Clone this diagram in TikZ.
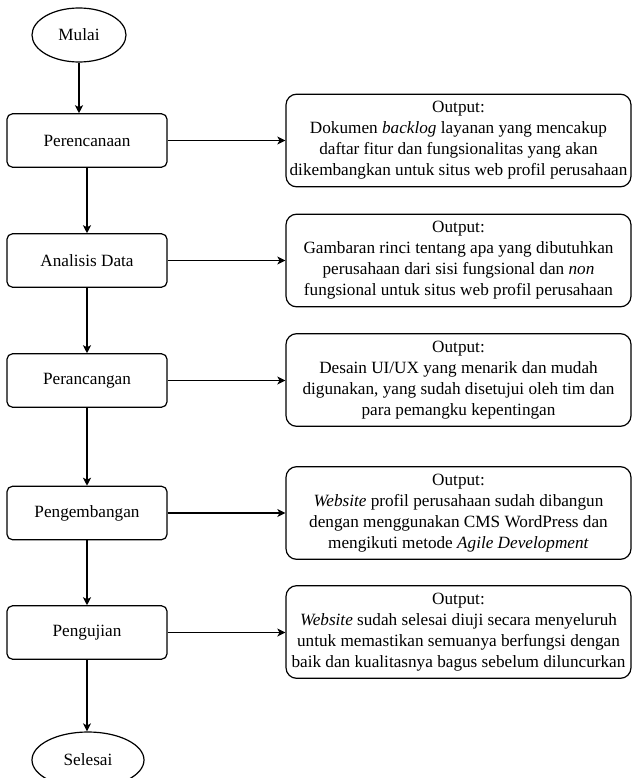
\documentclass[tikz,border=0pt]{standalone}
\usepackage{fontspec}
\setmainfont{Liberation Serif}
\usetikzlibrary{shapes.geometric,arrows.meta}
\begin{document}
\begin{tikzpicture}[x=0.75pt,y=-0.75pt,
  every node/.style={font=\fontsize{12.9}{15.8}\selectfont},
  procbox/.style={draw, line width=0.9pt, rounded corners=4pt, minimum width=120pt, minimum height=40pt, inner sep=0pt},
  termnode/.style={draw, line width=0.9pt, ellipse, inner sep=0pt},
  outbox/.style={draw, line width=0.9pt, rounded corners=8pt, minimum width=258.75pt, minimum height=69.5pt, align=center, inner sep=0pt},
  arr/.style={line width=0.9pt, -{Stealth[length=6pt,width=6pt,inset=1.5pt]}}
]
\useasboundingbox (0,0) rectangle (632,778);
\fill[white] (0,0) rectangle (632,778);

\node[termnode, minimum width=70.5pt, minimum height=40.5pt] (mulai) at (79,35) {Mulai};
\node[procbox] (p1) at (87,140.5) {Perencanaan};
\node[procbox] (p2) at (87,260.5) {Analisis Data};
\node[procbox] (p3) at (87,380.5) {Perancangan};
\node[procbox] (p4) at (87,513) {Pengembangan};
\node[procbox] (p5) at (87,632.5) {Pengujian};
\node[termnode, minimum width=84pt, minimum height=42pt] (selesai) at (88,760) {Selesai};

\node[outbox] (o1) at (458.5,140.5) {Output:\\Dokumen \textit{backlog} layanan yang mencakup\\daftar fitur dan fungsionalitas yang akan\\dikembangkan untuk situs web profil perusahaan};
\node[outbox] (o2) at (458.5,260.5) {Output:\\Gambaran rinci tentang apa yang dibutuhkan\\perusahaan dari sisi fungsional dan \textit{non}\\fungsional untuk situs web profil perusahaan};
\node[outbox] (o3) at (458.5,380) {Output:\\Desain UI/UX yang menarik dan mudah\\digunakan, yang sudah disetujui oleh tim dan\\para pemangku kepentingan};
\node[outbox] (o4) at (458.5,513) {Output:\\\textit{Website} profil perusahaan sudah dibangun\\dengan menggunakan CMS WordPress dan\\mengikuti metode \textit{Agile Development}};
\node[outbox] (o5) at (458.5,632) {Output:\\\textit{Website} sudah selesai diuji secara menyeluruh\\untuk memastikan semuanya berfungsi dengan\\baik dan kualitasnya bagus sebelum diluncurkan};

\draw[arr] (mulai.south) -- (mulai.south |- p1.north);
\draw[arr] (p1) -- (p2);
\draw[arr] (p2) -- (p3);
\draw[arr] (p3) -- (p4);
\draw[arr] (p4) -- (p5);
\draw[arr] (p5.south) -- (p5.south |- selesai.north);

\draw[arr] (p1.east) -- (o1.west);
\draw[arr] (p2.east) -- (o2.west);
\draw[arr] (p3.east) -- (p3.east -| o3.west);
\draw[arr] (p4.east) -- (o4.west);
\draw[arr] (p5.east) -- (p5.east -| o5.west);
\end{tikzpicture}
\end{document}
